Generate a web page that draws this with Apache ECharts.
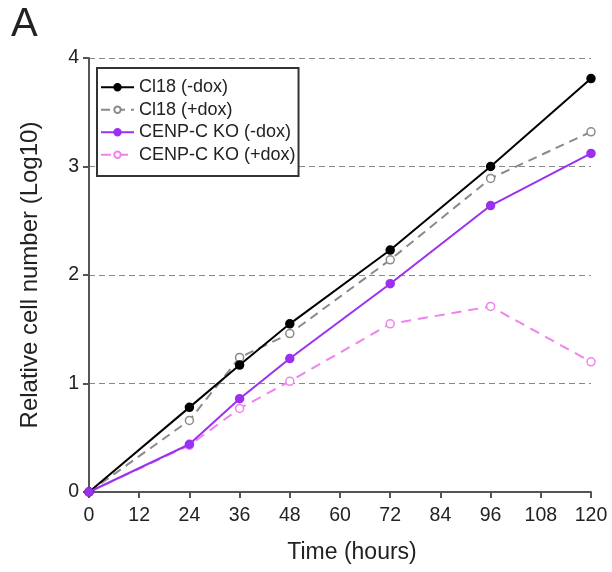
<!DOCTYPE html>
<html><head><meta charset="utf-8">
<script src="https://cdn.jsdelivr.net/npm/echarts@6/dist/echarts.min.js"></script>
<style>html,body{margin:0;padding:0;background:#fff}#c{width:612px;height:572px}</style>
</head><body><div id="c"></div>
<script>
const hours = [0, 24, 36, 48, 72, 96, 120];
const seriesNames = ['Cl18 (-dox)', 'Cl18 (+dox)', 'CENP-C KO (-dox)', 'CENP-C KO (+dox)'];
const cl18Minus = [0, 0.78, 1.17, 1.55, 2.23, 3.00, 3.81];
const cl18Plus = [0, 0.66, 1.24, 1.46, 2.14, 2.89, 3.32];
const koMinus = [0, 0.44, 0.86, 1.23, 1.92, 2.64, 3.12];
const koPlus = [0, 0.43, 0.77, 1.02, 1.55, 1.71, 1.20];
const xTicks = [0, 12, 24, 36, 48, 60, 72, 84, 96, 108, 120];
const yTicks = [0, 1, 2, 3, 4];

const font = 'Liberation Sans, Arial, sans-serif';
function pairs(v){ return hours.map((h,i)=>[h, v[i]]); }
function mk(name, vals, color, filled, dash){
  return {
    name, type:'line', data:pairs(vals), symbol:'circle', symbolSize:8,
    lineStyle:{color, width:2, type: dash || 'solid'},
    itemStyle:{color: filled?color:'#fff', borderColor:color, borderWidth:1.5},
    emphasis:{disabled:true}, z: filled?3:2
  };
}
const chart = echarts.init(document.getElementById('c'), null, {renderer:'canvas'});
chart.setOption({
  animation:false,
  backgroundColor:'#fff',
  title:{text:'A', left:6, top:0, textStyle:{fontFamily:font, fontSize:40, fontWeight:'normal', color:'#222'}},
  grid:{left:89, right:21, top:58, bottom:80},
  legend:{
    left:97, top:68, orient:'vertical', padding:[10,3,12,3], itemGap:4,
    itemWidth:33, itemHeight:8,
    borderColor:'#333', borderWidth:2, backgroundColor:'#fff',
    textStyle:{fontFamily:font, fontSize:18, color:'#222', lineHeight:18.5},
    data:seriesNames
  },
  xAxis:{
    type:'value', min:0, max:120, interval:12,
    name:'Time (hours)', nameLocation:'middle', nameGap:49,
    nameTextStyle:{fontFamily:font, fontSize:23, color:'#222', padding:[0,0,0,24]},
    axisLine:{onZero:false, lineStyle:{color:'#555', width:2}},
    axisTick:{show:true, length:6, lineStyle:{color:'#555', width:2}},
    axisLabel:{fontFamily:font, fontSize:19.5, color:'#222', margin:14,
      formatter:v=> xTicks.includes(v)? String(v):''},
    splitLine:{show:false}
  },
  yAxis:{
    type:'value', min:0, max:4, interval:1,
    name:'Relative cell number (Log10)', nameLocation:'middle', nameGap:47,
    nameTextStyle:{fontFamily:font, fontSize:24, color:'#222'},
    axisLine:{show:true, lineStyle:{color:'#555', width:2}},
    axisTick:{show:true, length:6, lineStyle:{color:'#555', width:2}},
    axisLabel:{fontFamily:font, fontSize:19.5, color:'#222', margin:10,
      formatter:v=> yTicks.includes(v)? String(v):''},
    splitLine:{show:true, lineStyle:{color:'#888', width:1, type:[6,4]}}
  },
  series:[
    mk(seriesNames[0], cl18Minus, '#000000', true, null),
    mk(seriesNames[1], cl18Plus, '#8a8a8a', false, [9,6]),
    mk(seriesNames[2], koMinus, '#9b30f0', true, null),
    mk(seriesNames[3], koPlus, '#ee82ee', false, [10,7])
  ]
});
</script></body></html>
